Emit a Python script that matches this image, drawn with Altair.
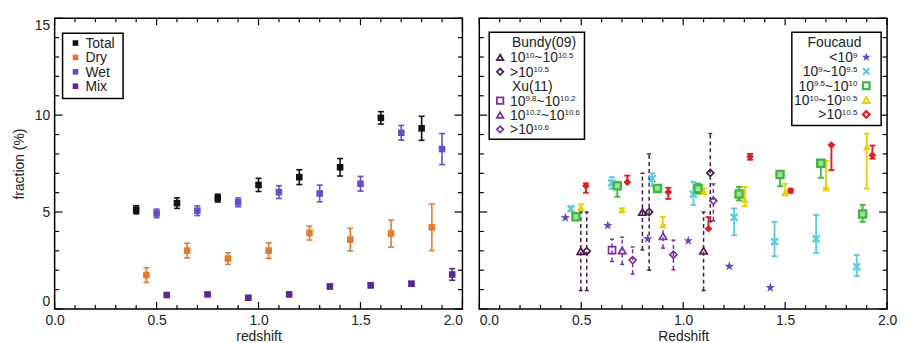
import altair as alt
import pandas as pd

# ---------------- data: left panel (fraction vs redshift) ----------------
TOTAL_X = [0.4, 0.6, 0.8, 1.0, 1.2, 1.4, 1.6, 1.8]
TOTAL_Y = [5.12, 5.46, 5.72, 6.40, 6.80, 7.31, 9.86, 9.32]
TOTAL_E = [0.21, 0.27, 0.20, 0.34, 0.38, 0.45, 0.32, 0.62]

DRY_X = [0.45, 0.65, 0.85, 1.05, 1.25, 1.45, 1.65, 1.85]
DRY_Y = [1.75, 3.01, 2.60, 3.01, 3.92, 3.58, 3.89, 4.21]
DRY_E = [0.38, 0.38, 0.30, 0.40, 0.36, 0.58, 0.70, 1.20]

WET_X = [0.5, 0.7, 0.9, 1.1, 1.3, 1.5, 1.7, 1.9]
WET_Y = [4.93, 5.07, 5.50, 6.03, 5.96, 6.46, 9.09, 8.25]
WET_E = [0.22, 0.25, 0.23, 0.33, 0.43, 0.38, 0.38, 0.80]

MIX_X = [0.55, 0.75, 0.95, 1.15, 1.35, 1.55, 1.75, 1.95]
MIX_Y = [0.72, 0.75, 0.58, 0.75, 1.16, 1.22, 1.30, 1.78]
MIX_E = [0.08, 0.08, 0.08, 0.10, 0.10, 0.12, 0.12, 0.30]

LEFT_NAMES = ["Total", "Dry", "Wet", "Mix"]

# ---------------- data: right panel ----------------
# Bundy(09)
BUNDY_TRI_X = [0.498, 0.80, 1.10]
BUNDY_TRI_Y = [2.98, 5.0, 3.0]
BUNDY_TRI_LO = [0.95, 3.05, 0.95]
BUNDY_TRI_HI = [5.0, 7.0, 5.0]
BUNDY_DIA_X = [0.527, 0.833, 1.133]
BUNDY_DIA_Y = [2.98, 5.0, 7.02]
BUNDY_DIA_LO = [0.95, 2.0, 4.5]
BUNDY_DIA_HI = [5.0, 8.0, 9.05]
# Xu(11)
XU_SQ_X = [0.651]
XU_SQ_Y = [3.04]
XU_SQ_LO = [2.45]
XU_SQ_HI = [3.6]
XU_TRI_X = [0.701, 0.901]
XU_TRI_Y = [3.02, 3.75]
XU_TRI_LO = [2.3, 3.14]
XU_TRI_HI = [3.7, 4.34]
XU_DIA_X = [0.752, 0.952, 1.148]
XU_DIA_Y = [2.52, 2.8, 5.58]
XU_DIA_LO = [1.8, 2.02, 4.55]
XU_DIA_HI = [3.2, 3.55, 6.45]
# Foucaud
STAR_X = [0.422, 0.63, 0.826, 1.025, 1.226, 1.427]
STAR_Y = [4.71, 4.31, 3.62, 3.52, 2.2, 1.1]

CYAN_X = [0.45, 0.649, 0.848, 1.05, 1.25, 1.448, 1.652, 1.851]
CYAN_Y = [5.17, 6.5, 6.72, 5.92, 4.73, 3.47, 3.62, 2.18]
CYAN_LO = [5.05, 6.2, 6.35, 5.37, 3.8, 2.72, 2.89, 1.70]
CYAN_HI = [5.3, 6.8, 7.0, 6.56, 5.19, 4.5, 4.85, 2.78]

GREEN_X = [0.474, 0.677, 0.874, 1.073, 1.274, 1.475, 1.675, 1.88]
GREEN_Y = [4.76, 6.35, 6.22, 6.2, 5.93, 6.94, 7.52, 4.9]
GREEN_LO = [4.6, 5.79, 6.05, 5.95, 5.6, 6.33, 6.77, 4.5]
GREEN_HI = [4.95, 6.56, 6.4, 6.47, 6.3, 7.12, 7.67, 5.37]

YELLOW_X = [0.498, 0.70, 0.90, 1.10, 1.302, 1.50, 1.70, 1.90]
YELLOW_Y = [5.24, 5.1, 4.34, 6.05, 5.65, 6.03, 6.25, 8.36]
YELLOW_LO = [5.1, 5.0, 4.22, 5.95, 5.3, 5.86, 6.25, 6.21]
YELLOW_HI = [5.4, 5.2, 4.75, 6.2, 6.3, 6.45, 7.64, 9.05]

RED_X = [0.523, 0.726, 0.927, 1.124, 1.328, 1.527, 1.727, 1.928]
RED_Y = [6.35, 6.54, 6.03, 4.14, 7.86, 6.1, 8.46, 7.93]
RED_LO = [6.0, 6.54, 5.68, 4.14, 7.7, 6.0, 7.16, 7.76]
RED_HI = [6.48, 6.88, 6.25, 4.74, 8.0, 6.2, 8.46, 8.43]

# axis ticks
X_MAJOR = [0.0, 0.5, 1.0, 1.5, 2.0]
X_MINOR = [0.1, 0.2, 0.3, 0.4, 0.6, 0.7, 0.8, 0.9, 1.1, 1.2, 1.3, 1.4, 1.6, 1.7, 1.8, 1.9]
Y_MAJOR = [0, 5, 10, 15]
Y_MINOR = [1, 2, 3, 4, 6, 7, 8, 9, 11, 12, 13, 14]

# ---------------- style ----------------
FONT = "Liberation Sans"
TXT = "#222222"
C_TOTAL, C_DRY, C_WET, C_MIX = "#111111", "#e27a30", "#6a4cc9", "#5a2794"
C_BUNDY, C_XU = "#4a1c4e", "#7b2f9e"
C_STAR, C_CYAN, C_GREEN, C_YELLOW, C_RED = "#6945c0", "#5ccbdc", "#3db83d", "#e6d200", "#e11f1f"
STAR_PATH = ("M0,-1L0.235,-0.324L0.951,-0.309L0.38,0.124L0.588,0.809L0,0.4"
             "L-0.588,0.809L-0.38,0.124L-0.951,-0.309L-0.235,-0.324Z")
X_PATH = "M-1,-1L1,1M-1,1L1,-1"

W, H = 411, 293
XS = alt.Scale(domain=[0, 2], nice=False, zero=False)
YS = alt.Scale(domain=[0, 15], nice=False, zero=False)
MAIN, SUP = 14, 8
CW = {c: 0.556 for c in "0123456789"}
CW.update({"~": 0.584, "<": 0.584, ">": 0.584, ".": 0.278})


def x_axis(title, edge_test, edge_align):
    return alt.Axis(values=X_MAJOR, format=".1f", title=title, ticks=False, domain=False,
                    grid=False, labelPadding=5, titlePadding=2, labelFlush=False,
                    labelOverlap=False,
                    labelAlign=alt.condition(edge_test, alt.value(edge_align),
                                             alt.value("center")))


def y_axis(show):
    return alt.Axis(values=Y_MAJOR, format="d", title="fraction (%)" if show else None,
                    ticks=False, domain=False, labels=show,
                    grid=False, labelPadding=5, titlePadding=8, labelFlush=True,
                    labelOverlap=False)


def frame(xs, ys, lo, hi):
    return pd.DataFrame({"x": xs, "y": ys, "lo": lo, "hi": hi})


def tw(s, fs):
    return sum(CW.get(c, 0.556) for c in s) * fs


class Panel:
    def __init__(self, xaxis, show_y):
        self.xa = xaxis
        self.ya = y_axis(show_y)
        self.layers = []

    def X(self, f):
        return alt.X(f, scale=XS, axis=self.xa)

    def Y(self, f):
        return alt.Y(f, scale=YS, axis=self.ya)

    def errbars(self, d, color, dashed=False, cap=6, width=1.8):
        kw = dict(color=color, strokeWidth=width)
        if dashed:
            kw["strokeDash"] = [4, 3]
        self.layers.append(alt.Chart(d).mark_rule(**kw).encode(
            x=self.X("x:Q"), y=self.Y("lo:Q"), y2="hi:Q"))
        caps = pd.DataFrame({"x": list(d["x"]) * 2, "y": list(d["lo"]) + list(d["hi"])})
        self.layers.append(alt.Chart(caps).mark_tick(
            orient="horizontal", size=cap, thickness=width, color=color, opacity=1).encode(
            x=self.X("x:Q"), y=self.Y("y:Q")))

    def points(self, d, **mk):
        mk.setdefault("opacity", 1)
        self.layers.append(alt.Chart(d).mark_point(**mk).encode(
            x=self.X("x:Q"), y=self.Y("y:Q")))

    def inner_ticks(self):
        for vals, L in ((X_MAJOR, 7), (X_MINOR, 4)):
            d = pd.DataFrame({"v": vals})
            for y0, y1 in ((H, H - L), (0, L)):
                self.layers.append(alt.Chart(d).mark_rule(color="black", strokeWidth=1.2).encode(
                    x=self.X("v:Q"), y=alt.value(y0), y2=alt.value(y1)))
        for vals, L in ((Y_MAJOR, 8), (Y_MINOR, 4.5)):
            d = pd.DataFrame({"v": vals})
            for x0, x1 in ((0, L), (W, W - L)):
                self.layers.append(alt.Chart(d).mark_rule(color="black", strokeWidth=1.2).encode(
                    y=self.Y("v:Q"), x=alt.value(x0), x2=alt.value(x1)))

    def text(self, t, x, y, fs, align="left"):
        self.layers.append(alt.Chart(pd.DataFrame({"t": [t]})).mark_text(
            align=align, baseline="alphabetic", font=FONT, fontSize=fs, color=TXT).encode(
            x=alt.value(x), y=alt.value(y), text="t:N"))

    def row(self, segs, x, yc, anchor="left"):
        total = sum(tw(s, SUP if sup else MAIN) for s, sup in segs)
        cx = x if anchor == "left" else x - total
        for s, sup in segs:
            fs = SUP if sup else MAIN
            self.text(s, cx, yc + (0.5 if sup else 5), fs)
            cx += tw(s, fs)

    def symbol(self, x, y, **mk):
        mk.setdefault("opacity", 1)
        self.layers.append(alt.Chart(pd.DataFrame({"a": [0]})).mark_point(**mk).encode(
            x=alt.value(x), y=alt.value(y)))

    def box(self, x0, y0, x1, y1):
        self.layers.append(alt.Chart(pd.DataFrame({"a": [0]})).mark_rect(
            fill="white", stroke="black", strokeWidth=1.5).encode(
            x=alt.value(x0), x2=alt.value(x1), y=alt.value(y0), y2=alt.value(y1)))

    def chart(self):
        return alt.layer(*self.layers).properties(width=W, height=H)


# ---------------- left panel ----------------
left_series = [
    (LEFT_NAMES[0], TOTAL_X, TOTAL_Y, TOTAL_E, C_TOTAL),
    (LEFT_NAMES[1], DRY_X, DRY_Y, DRY_E, C_DRY),
    (LEFT_NAMES[2], WET_X, WET_Y, WET_E, C_WET),
    (LEFT_NAMES[3], MIX_X, MIX_Y, MIX_E, C_MIX),
]
LP = Panel(x_axis("redshift", "datum.value == 2", "right"), True)
for name, xs, ys, es, col in left_series:
    d = frame(xs, ys, [y - e for y, e in zip(ys, es)], [y + e for y, e in zip(ys, es)])
    LP.errbars(d, col, cap=6, width=1.6)
for name, xs, ys, es, col in left_series:
    LP.points(frame(xs, ys, ys, ys), shape="square", filled=True, color=col, size=44)
LP.inner_ticks()
LP.box(8, 15, 69, 81)
for i, (name, xs, ys, es, col) in enumerate(left_series):
    yc = 25 + 14.5 * i
    LP.symbol(21, yc, shape="square", filled=True, color=col, size=32)
    LP.text(name, 31, yc + 5, MAIN)

# ---------------- right panel ----------------
RP = Panel(x_axis("Redshift", "datum.value == 0", "left"), False)
dashed_sets = [
    (frame(BUNDY_TRI_X, BUNDY_TRI_Y, BUNDY_TRI_LO, BUNDY_TRI_HI), C_BUNDY, "triangle-up", 55),
    (frame(BUNDY_DIA_X, BUNDY_DIA_Y, BUNDY_DIA_LO, BUNDY_DIA_HI), C_BUNDY, "diamond", 50),
    (frame(XU_SQ_X, XU_SQ_Y, XU_SQ_LO, XU_SQ_HI), C_XU, "square", 50),
    (frame(XU_TRI_X, XU_TRI_Y, XU_TRI_LO, XU_TRI_HI), C_XU, "triangle-up", 55),
    (frame(XU_DIA_X, XU_DIA_Y, XU_DIA_LO, XU_DIA_HI), C_XU, "diamond", 50),
]
for d, col, shp, sz in dashed_sets:
    RP.errbars(d, col, dashed=True, cap=4, width=1.5)
solid_sets = [
    (frame(CYAN_X, CYAN_Y, CYAN_LO, CYAN_HI), C_CYAN),
    (frame(GREEN_X, GREEN_Y, GREEN_LO, GREEN_HI), C_GREEN),
    (frame(YELLOW_X, YELLOW_Y, YELLOW_LO, YELLOW_HI), C_YELLOW),
    (frame(RED_X, RED_Y, RED_LO, RED_HI), C_RED),
]
for d, col in solid_sets:
    RP.errbars(d, col, cap=6, width=1.9)
for d, col, shp, sz in dashed_sets:
    RP.points(d, shape=shp, filled=False, color=col, size=sz, strokeWidth=1.7)
RP.points(frame(STAR_X, STAR_Y, STAR_Y, STAR_Y), shape=STAR_PATH, filled=True,
          color=C_STAR, size=100)
RP.points(solid_sets[0][0], shape=X_PATH, filled=False, color=C_CYAN, size=48, strokeWidth=2.3)
RP.points(solid_sets[1][0], shape="square", filled=True, fill="#9fdc9f", stroke=C_GREEN,
          strokeWidth=2.3, size=52)
RP.points(solid_sets[2][0], shape="triangle-up", filled=True, color=C_YELLOW, size=60)
RP.points(solid_sets[3][0], shape="diamond", filled=True, color=C_RED, size=60)
RP.inner_ticks()

# Bundy / Xu legend
RP.box(10, 14, 106, 122)
byc = [24.3, 39.5, 54, 68.5, 83, 97.5, 112]
RP.text("Bundy(09)", 33, byc[0] + 5, MAIN)
RP.text("Xu(11)", 33, byc[3] + 5, MAIN)
bundy_rows = [
    (byc[1], "triangle-up", C_BUNDY, [("10", 0), ("10", 1), ("~10", 0), ("10.5", 1)]),
    (byc[2], "diamond", C_BUNDY, [(">10", 0), ("10.5", 1)]),
    (byc[4], "square", C_XU, [("10", 0), ("9.8", 1), ("~10", 0), ("10.2", 1)]),
    (byc[5], "triangle-up", C_XU, [("10", 0), ("10.2", 1), ("~10", 0), ("10.6", 1)]),
    (byc[6], "diamond", C_XU, [(">10", 0), ("10.6", 1)]),
]
for yc, shp, col, segs in bundy_rows:
    RP.symbol(21, yc, shape=shp, filled=False, color=col, size=42, strokeWidth=1.8)
    RP.row(segs, 31, yc, "left")

# Foucaud legend
RP.box(315, 14, 405, 108)
fyc = [24.3, 39.3, 53.5, 68, 82.5, 97]
RP.text("Foucaud", 358, fyc[0] + 5, MAIN, align="center")
fouc_rows = [
    (fyc[1], dict(shape=STAR_PATH, filled=True, color=C_STAR, size=90), [("<10", 0), ("9", 1)]),
    (fyc[2], dict(shape=X_PATH, filled=False, color=C_CYAN, size=40, strokeWidth=2.2),
     [("10", 0), ("9", 1), ("~10", 0), ("9.5", 1)]),
    (fyc[3], dict(shape="square", filled=False, color=C_GREEN, size=45, strokeWidth=2.2),
     [("10", 0), ("9.5", 1), ("~10", 0), ("10", 1)]),
    (fyc[4], dict(shape="triangle-up", filled=False, color=C_YELLOW, size=45, strokeWidth=2),
     [("10", 0), ("10", 1), ("~10", 0), ("10.5", 1)]),
    (fyc[5], dict(shape="diamond", filled=False, color=C_RED, size=45, strokeWidth=2.2),
     [(">10", 0), ("10.5", 1)]),
]
for yc, mk, segs in fouc_rows:
    RP.symbol(390, yc, **mk)
    RP.row(segs, 381, yc, "right")

chart = alt.hconcat(LP.chart(), RP.chart(), spacing=17, bounds="flush",
                    padding={"left": 3, "top": 7, "right": 0, "bottom": 0}).configure(
    font=FONT).configure_view(stroke="black", strokeWidth=1.5).configure_axis(
    labelFont=FONT, labelFontSize=14, labelColor=TXT, titleFont=FONT, titleFontSize=14,
    titleFontWeight="normal", titleColor=TXT)

chart.save("out.html", embed_options={"renderer": "svg", "actions": False})
